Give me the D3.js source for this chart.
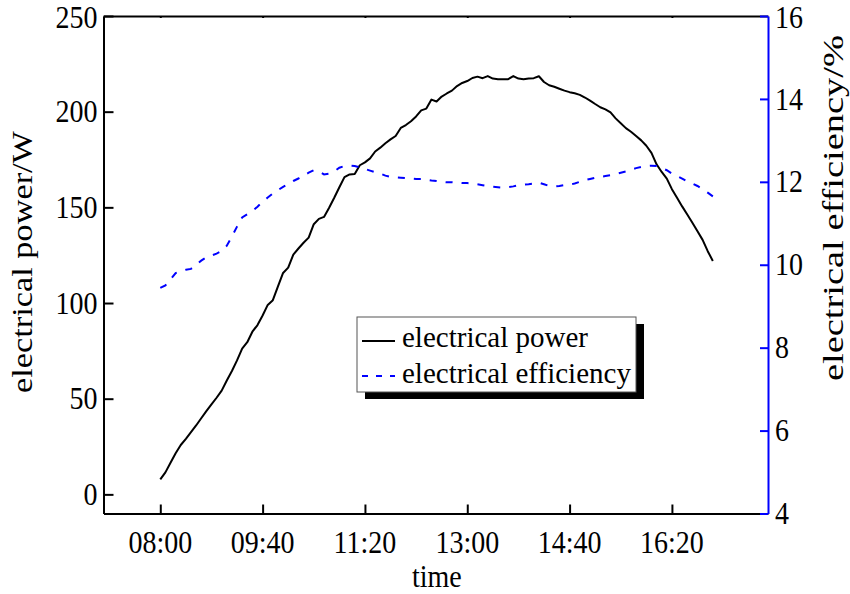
<!DOCTYPE html>
<html><head><meta charset="utf-8">
<script src="https://cdn.jsdelivr.net/npm/d3@7"></script>
<style>
body{margin:0;background:#fff}
text{font-family:"Liberation Serif","Times New Roman",serif;fill:#000}
</style>
</head><body>
<svg id="chart" width="850" height="594"></svg>
<script>
// ---- data (5-minute readings, 08:00 .. 17:00) ----
const startMinutes = 480;   // 08:00
const stepMinutes = 5;
const powerW = [
  7.8, 11.5, 16.5, 21.5, 25.8, 29, 32.5, 36, 39.8, 43.5,
  47, 50.5, 54.2, 59.5, 64.5, 70, 76.2, 79.5, 85, 88.5,
  93.5, 99, 101.5, 108.7, 115.7, 118.5, 125.3, 128.5, 131.5, 134.2,
  141.2, 144, 145, 149.8, 155, 160.5, 165.8, 167.2, 167.4, 172,
  173.5, 175.6, 179.2, 181.2, 183.5, 185.5, 187.3, 191.5, 193, 195,
  197.5, 200.7, 201.6, 206.3, 205.3, 207.9, 209.5, 211, 213.4, 215,
  216, 217.6, 218.3, 217.5, 218.6, 217.3, 217, 217, 217, 218.6,
  217.3, 217, 217.3, 217.5, 218.5, 215.5, 213.8, 213, 212, 211,
  210.2, 209.6, 208.8, 207.4, 205.8, 204, 202.3, 201.2, 199.6, 196.5,
  194, 191.4, 189.5, 187.3, 185, 182.2, 178.5, 172.5, 168.5, 165,
  159.5, 155, 150.5, 146.3, 142, 137.5, 133, 127.1, 122
];
const efficiencyPct = [
  9.44, 9.5, 9.65, 9.8, 9.85, 9.88, 9.9, 10.0, 10.1, 10.18,
  10.22, 10.27, 10.33, 10.46, 10.68, 10.92, 11.14, 11.22, 11.3, 11.4,
  11.52, 11.62, 11.72, 11.8, 11.88, 11.95, 12.02, 12.08, 12.15, 12.22,
  12.28, 12.25, 12.18, 12.2, 12.25, 12.34, 12.38, 12.39, 12.38, 12.35,
  12.31, 12.27, 12.23, 12.2, 12.15, 12.12, 12.11, 12.1, 12.09, 12.08,
  12.07, 12.07, 12.05, 12.03, 12.02, 12.0, 11.99, 11.99, 11.98, 11.97,
  11.97, 11.96, 11.94, 11.92, 11.9, 11.88, 11.87, 11.86, 11.87, 11.89,
  11.92, 11.93, 11.94, 11.96, 11.98, 11.94, 11.9, 11.89, 11.9, 11.92,
  11.93, 11.96, 12.0, 12.04, 12.07, 12.1, 12.12, 12.14, 12.16, 12.19,
  12.22, 12.25, 12.29, 12.33, 12.36, 12.38, 12.39, 12.38, 12.33, 12.28,
  12.2, 12.14, 12.08, 12.01, 11.96, 11.9, 11.82, 11.74, 11.65
];
const xTickMinutes = [480, 580, 680, 780, 880, 980];
const xTickLabels = ["08:00", "09:40", "11:20", "13:00", "14:40", "16:20"];
const leftTicks = [0, 50, 100, 150, 200, 250];
const rightTicks = [4, 6, 8, 10, 12, 14, 16];
const seriesNames = ["electrical power", "electrical efficiency"];
const xTitle = "time", leftTitle = "electrical power/W", rightTitle = "electrical efficiency/%";

const times = powerW.map((_, i) => startMinutes + i * stepMinutes);

// ---- layout ----
const L = 103.5, R = 768, T = 16, B = 513.5;
const SY = 1.12; // axis-text vertical stretch
const FS = 28;
const svg = d3.select("#chart");
const x = d3.scaleLinear().domain([424.5, 1073.9]).range([L, R]);
const yL = d3.scaleLinear().domain([-10, 250]).range([B, T]);
const yR = d3.scaleLinear().domain([4, 16]).range([B, T]);
const blue = "#0000ff";

// lines
const powerLine = d3.line().x((d, i) => x(times[i])).y(d => yL(d));
const effLine = d3.line().x((d, i) => x(times[i])).y(d => yR(d));
svg.append("path").datum(powerW).attr("d", powerLine)
  .attr("fill", "none").attr("stroke", "#000").attr("stroke-width", 2).attr("stroke-linejoin", "round");
svg.append("path").datum(efficiencyPct).attr("d", effLine)
  .attr("fill", "none").attr("stroke", blue).attr("stroke-width", 2).attr("stroke-dasharray", "7,9");

// axes (ticks + lines)
function styleAxis(g, color) {
  g.select(".domain").attr("stroke", color).attr("stroke-width", 2);
  g.selectAll(".tick line").attr("stroke", color).attr("stroke-width", 2);
  g.selectAll(".tick text").remove();
}
svg.append("g").attr("transform", `translate(0,${B})`)
  .call(d3.axisBottom(x).tickValues(xTickMinutes).tickSizeInner(-9).tickSizeOuter(0))
  .call(g => styleAxis(g, "#000"));
svg.append("g").attr("transform", `translate(0,${T})`)
  .call(d3.axisTop(x).tickValues(xTickMinutes).tickSizeInner(-2).tickSizeOuter(0))
  .call(g => styleAxis(g, "#000"));
svg.append("g").attr("transform", `translate(${L},0)`)
  .call(d3.axisLeft(yL).tickValues(leftTicks).tickSizeInner(-10).tickSizeOuter(0))
  .call(g => styleAxis(g, "#000"));
svg.append("g").attr("transform", `translate(${R},0)`)
  .call(d3.axisRight(yR).tickValues(rightTicks).tickSizeInner(-8).tickSizeOuter(0))
  .call(g => styleAxis(g, blue));

// tick labels; keep the top-most labels fully inside the page
const digitHalf = 0.676 * FS * SY / 2;
const minBaseline = 0.891 * FS * SY + 0.5;
const baseY = py => Math.max(py + digitHalf, minBaseline);
svg.append("g").selectAll("text").data(xTickMinutes).join("text")
  .attr("transform", d => `translate(${x(d)},553) scale(1,${SY})`)
  .attr("text-anchor", "middle").style("font-size", FS + "px")
  .text((d, i) => xTickLabels[i]);
svg.append("g").selectAll("text").data(leftTicks).join("text")
  .attr("transform", d => `translate(${L - 6},${baseY(yL(d))}) scale(1,${SY})`)
  .attr("text-anchor", "end").style("font-size", FS + "px").text(d => d);
svg.append("g").selectAll("text").data(rightTicks).join("text")
  .attr("transform", d => `translate(${R + 7},${baseY(yR(d))}) scale(1,${SY})`)
  .attr("text-anchor", "start").style("font-size", FS + "px").text(d => d);

// axis titles
svg.append("text").attr("transform", `translate(${(L + R) / 2 + 1},587) scale(1,${SY})`)
  .attr("text-anchor", "middle").style("font-size", FS + "px").text(xTitle);
svg.append("text").attr("transform", "translate(32,393) rotate(-90)")
  .attr("textLength", 262).attr("lengthAdjust", "spacingAndGlyphs")
  .style("font-size", "30px").text(leftTitle);
svg.append("text").attr("transform", "translate(843,381) rotate(-90)")
  .attr("textLength", 346).attr("lengthAdjust", "spacingAndGlyphs")
  .style("font-size", "30px").text(rightTitle);

// legend
const lg = svg.append("g");
lg.append("rect").attr("x", 365).attr("y", 324).attr("width", 279).attr("height", 75).attr("fill", "#000");
lg.append("rect").attr("x", 357).attr("y", 317).attr("width", 279).attr("height", 75)
  .attr("fill", "#fff").attr("stroke", "#555").attr("stroke-width", 1);
lg.append("line").attr("x1", 362).attr("x2", 395).attr("y1", 341).attr("y2", 341)
  .attr("stroke", "#000").attr("stroke-width", 2);
lg.append("line").attr("x1", 362).attr("x2", 395).attr("y1", 376).attr("y2", 376)
  .attr("stroke", blue).attr("stroke-width", 2).attr("stroke-dasharray", "6,8");
lg.append("text").attr("x", 402).attr("y", 347).style("font-size", "29px").text(seriesNames[0]);
lg.append("text").attr("x", 402).attr("y", 383).style("font-size", "29px").text(seriesNames[1]);
</script>
</body></html>
